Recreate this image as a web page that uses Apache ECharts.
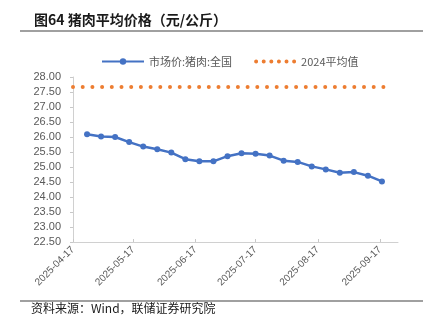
<!DOCTYPE html>
<html>
<head>
<meta charset="utf-8">
<script src="https://cdn.jsdelivr.net/npm/echarts@6/dist/echarts.min.js"></script>
<style>
  html, body { margin: 0; padding: 0; background: #fff; }
  #chart { width: 431px; height: 330px; }
</style>
</head>
<body>
<div id="chart"></div>
<script>
// Weekly national pork market price (元/公斤)
const priceDates = [
  '2025-04-24', '2025-05-01', '2025-05-08', '2025-05-15', '2025-05-22', '2025-05-29',
  '2025-06-05', '2025-06-12', '2025-06-19', '2025-06-26', '2025-07-03', '2025-07-10',
  '2025-07-17', '2025-07-24', '2025-07-31', '2025-08-07', '2025-08-14', '2025-08-21',
  '2025-08-28', '2025-09-04', '2025-09-11', '2025-09-18'
];
const priceValues = [
  26.09, 26.02, 26.00, 25.83, 25.68, 25.59,
  25.48, 25.26, 25.19, 25.19, 25.36, 25.46,
  25.44, 25.38, 25.21, 25.17, 25.02, 24.92,
  24.81, 24.83, 24.71, 24.52
];
// 2024 yearly average, drawn as a flat reference line
const avg2024 = 27.67;
const avgSpan = ['2025-04-17', '2025-09-23'];
// Date axis range and labelled ticks
const axisStart = '2025-04-17';
const axisEnd = '2025-09-26';
const tickDates = ['2025-04-17', '2025-05-17', '2025-06-17', '2025-07-17', '2025-08-17', '2025-09-17'];
const seriesNames = ['市场价:猪肉:全国', '2024平均值'];

// one category per calendar day so spacing follows real time
const days = [];
for (let t = Date.parse(axisStart + 'T00:00:00Z'); t <= Date.parse(axisEnd + 'T00:00:00Z'); t += 86400000) {
  days.push(new Date(t).toISOString().slice(0, 10));
}
const priceData = days.map(d => {
  const i = priceDates.indexOf(d);
  return i >= 0 ? priceValues[i] : null;
});
const avgData = days.map(d => (avgSpan.indexOf(d) >= 0 ? avg2024 : null));
const isTick = (idx) => tickDates.indexOf(days[idx]) >= 0;

// legend glyph for the average line: a row of six round dots
let dotIcon = 'path://';
for (let k = 0; k < 6; k++) {
  const cx = 2 + k * 7.6;
  dotIcon += `M${cx - 2},2 A2,2 0 1,0 ${cx + 2},2 A2,2 0 1,0 ${cx - 2},2 Z `;
}

const grey = '#595959';
const cjk = '"Noto Sans CJK SC", "Liberation Sans", sans-serif';
const chart = echarts.init(document.getElementById('chart'), null, { renderer: 'canvas' });

chart.setOption({
  animation: false,
  backgroundColor: '#fff',
  title: {
    text: '图64 猪肉平均价格（元/公斤）',
    left: 29,
    top: 8,
    textStyle: { fontFamily: cjk, fontSize: 14, fontWeight: 'bold', color: '#1a1a1a' }
  },
  legend: {
    data: [
      { name: seriesNames[0] },
      { name: seriesNames[1], icon: dotIcon, itemStyle: { color: '#ED7D31' } }
    ],
    left: 96,
    top: 51,
    itemWidth: 42,
    itemHeight: 8,
    itemGap: 22,
    symbolKeepAspect: true,
    textStyle: { fontFamily: cjk, fontSize: 11, color: grey }
  },
  grid: { left: 73, right: 33, top: 77, bottom: 88, containLabel: false },
  xAxis: {
    type: 'category',
    data: days,
    boundaryGap: false,
    axisLine: { lineStyle: { color: '#d0d0d0', width: 1 } },
    axisTick: { show: true, inside: true, length: 3, interval: isTick, lineStyle: { color: '#c8c8c8' } },
    axisLabel: {
      interval: isTick,
      rotate: 45,
      margin: 6,
      fontSize: 10,
      color: grey,
      fontFamily: '"Liberation Sans", Arial, sans-serif'
    },
    splitLine: { show: false }
  },
  yAxis: {
    type: 'value',
    min: 22.5,
    max: 28,
    interval: 0.5,
    axisLine: { show: true, lineStyle: { color: '#d0d0d0', width: 1 } },
    axisTick: { show: true, length: 3, lineStyle: { color: '#c8c8c8' } },
    axisLabel: {
      margin: 12,
      fontSize: 11,
      color: grey,
      fontFamily: '"Liberation Sans", Arial, sans-serif',
      formatter: v => v.toFixed(2)
    },
    splitLine: { show: false }
  },
  series: [
    {
      name: seriesNames[0],
      type: 'line',
      data: priceData,
      connectNulls: true,
      showAllSymbol: true,
      symbol: 'circle',
      symbolSize: 6,
      itemStyle: { color: '#4472C4' },
      lineStyle: { color: '#4472C4', width: 2.5 },
      z: 3
    },
    {
      name: seriesNames[1],
      type: 'line',
      data: avgData,
      connectNulls: true,
      symbol: 'none',
      itemStyle: { color: '#ED7D31' },
      lineStyle: { color: '#ED7D31', width: 4, type: [0, 9.7], cap: 'round' },
      z: 2
    }
  ],
  graphic: [
    { type: 'line', shape: { x1: 20, y1: 31, x2: 423, y2: 31 }, style: { stroke: '#808080', lineWidth: 1.5 } },
    { type: 'line', shape: { x1: 20, y1: 301, x2: 423, y2: 301 }, style: { stroke: '#808080', lineWidth: 1.5 } },
    {
      type: 'text', left: 31, top: 302,
      style: { text: '资料来源：Wind，联储证券研究院', font: '12px ' + cjk, fill: '#1a1a1a' }
    }
  ]
});
</script>
</body>
</html>
